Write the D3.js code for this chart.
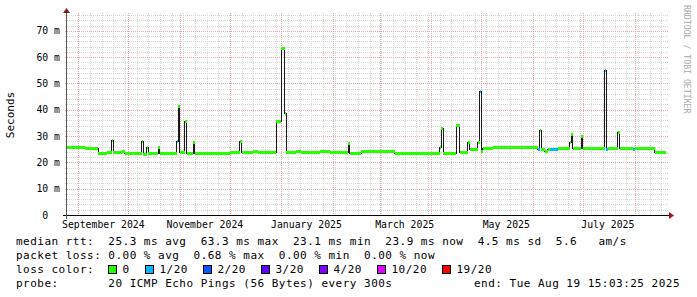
<!DOCTYPE html>
<html>
<head>
<meta charset="utf-8">
<script src="https://cdn.jsdelivr.net/npm/d3@7"></script>
<style>
body { margin: 0; background: #fff; }
svg { display: block; }
text { font-family: "DejaVu Sans Mono", monospace; white-space: pre; }
</style>
</head>
<body>
<svg id="chart" width="697" height="297"></svg>
<script>
// median rtt, one value per step (value holds until the next date)
var stepDates = [
  "2024-08-25","2024-09-05","2024-09-13","2024-09-18","2024-09-21","2024-09-22","2024-09-27","2024-09-29",
  "2024-10-09","2024-10-10","2024-10-12","2024-10-13","2024-10-19","2024-10-20","2024-10-30","2024-10-31",
  "2024-11-01","2024-11-04","2024-11-05","2024-11-09","2024-11-10","2024-12-01","2024-12-07","2024-12-08",
  "2024-12-15","2024-12-18","2024-12-29","2025-01-01","2025-01-03","2025-01-04","2025-01-10","2025-01-13",
  "2025-01-24","2025-01-30","2025-02-10","2025-02-11","2025-02-12","2025-02-18","2025-03-10","2025-04-06",
  "2025-04-07","2025-04-08","2025-04-16","2025-04-18","2025-04-23","2025-04-24","2025-04-29","2025-04-30",
  "2025-05-01","2025-05-02","2025-05-08","2025-06-04","2025-06-05","2025-06-06","2025-06-08","2025-06-10",
  "2025-06-11","2025-06-16","2025-06-23","2025-06-24","2025-06-25","2025-06-30","2025-07-01","2025-07-14",
  "2025-07-15","2025-07-16","2025-07-22","2025-07-23","2025-07-31","2025-08-01","2025-08-13"
];
var medianMs = [
  25.7, 25.4, 23.7, 24.1, 28.5, 23.8, 24.2, 23.7,
  28.3, 23.1, 26.0, 23.7, 26.0, 23.7, 28.3, 41.4,
  23.9, 35.7, 23.7, 27.6, 23.7, 24.1, 28.3, 23.8,
  24.2, 23.8, 35.7, 63.3, 38.8, 23.8, 24.2, 23.8,
  24.3, 23.8, 27.2, 23.5, 23.7, 24.3, 23.7, 26.0,
  33.0, 23.7, 34.2, 23.9, 27.6, 25.1, 27.6, 47.3,
  24.3, 25.6, 25.9, 25.1, 32.3, 25.0, 24.2, 25.1,
  25.1, 25.4, 27.6, 30.8, 25.4, 30.0, 25.4, 55.1,
  25.1, 25.4, 31.7, 25.4, 25.1, 25.4, 23.8
];
// index into lossLabels / lossColors
var lossLevel = [
  0,0,0,0,0,0,0,0,
  0,0,0,0,0,0,1,0,
  0,0,0,0,0,0,0,0,
  0,0,0,0,0,0,0,0,
  0,0,0,0,0,0,0,0,
  0,0,0,0,0,0,0,1,
  0,0,0,1,0,0,0,0,
  1,0,0,0,0,0,0,1,
  1,0,0,0,1,0,0
];
var dataEnd = "2025-08-19 15:03:25";

var yTicks = [0, 10, 20, 30, 40, 50, 60, 70];
var xLabelMonths = ["2024-09-01","2024-11-01","2025-01-01","2025-03-01","2025-05-01","2025-07-01"];

var lossLabels = ["0", "1/20", "2/20", "3/20", "4/20", "10/20", "19/20"];
var lossColors = ["#26ff00", "#00b8ff", "#0059ff", "#5e00ff", "#7e00ff", "#dd00ff", "#ff0000"];

var legendLines = [
  "median rtt:  25.3 ms avg  63.3 ms max  23.1 ms min  23.9 ms now  4.5 ms sd  5.6   am/s",
  "packet loss: 0.00 % avg  0.68 % max  0.00 % min  0.00 % now",
  "loss color:",
  "probe:       20 ICMP Echo Pings (56 Bytes) every 300s"
];
var endLabel = "end: Tue Aug 19 15:03:25 2025";

var parseDay = d3.timeParse("%Y-%m-%d");
var parseFull = d3.timeParse("%Y-%m-%d %H:%M:%S");

var pLeft = 67, pRight = 667, pTop = 15, pBottom = 215;
var svg = d3.select("#chart");

var x = d3.scaleTime()
  .domain([new Date(2024, 7, 25, 5, 0), new Date(2025, 7, 20, 12, 0)])
  .range([pLeft, pRight]);
var y = d3.scaleLinear().domain([0, 76]).range([pBottom, pTop]);

// grid
var grid = svg.append("g").attr("shape-rendering", "crispEdges").attr("stroke-dasharray", "1,1");
var weeks = d3.timeSunday.range(x.domain()[0], x.domain()[1]);
var months = d3.timeMonth.range(x.domain()[0], x.domain()[1]);
grid.selectAll(".vmin").data(weeks).enter().append("line")
  .attr("x1", function(d) { return Math.round(x(d)) + 0.5; })
  .attr("x2", function(d) { return Math.round(x(d)) + 0.5; })
  .attr("y1", pTop - 2).attr("y2", pBottom)
  .attr("stroke", "#d6d6d6");
var minorY = d3.range(2, 77, 2).filter(function(v) { return v % 10 !== 0; });
grid.selectAll(".hmin").data(minorY).enter().append("line")
  .attr("x1", pLeft - 2).attr("x2", pRight + 2)
  .attr("y1", function(d) { return Math.round(y(d)) + 0.5; })
  .attr("y2", function(d) { return Math.round(y(d)) + 0.5; })
  .attr("stroke", "#d6d6d6");
grid.selectAll(".vmaj").data(months).enter().append("line")
  .attr("x1", function(d) { return Math.round(x(d)) + 0.5; })
  .attr("x2", function(d) { return Math.round(x(d)) + 0.5; })
  .attr("y1", pTop - 2).attr("y2", pBottom)
  .attr("stroke", "#eba3a3");
grid.selectAll(".hmaj").data(yTicks.slice(1)).enter().append("line")
  .attr("x1", pLeft - 2).attr("x2", pRight + 2)
  .attr("y1", function(d) { return Math.round(y(d)) + 0.5; })
  .attr("y2", function(d) { return Math.round(y(d)) + 0.5; })
  .attr("stroke", "#eba3a3");

// median data
var pts = stepDates.map(function(d, i) { return { t: parseDay(d), v: medianMs[i], loss: lossLevel[i] }; });
var endT = parseFull(dataEnd);
var linePts = pts.concat([{ t: endT, v: medianMs[medianMs.length - 1] }]);

var plot = svg.append("g");
plot.append("path")
  .datum(linePts)
  .attr("fill", "none")
  .attr("stroke", "#1a1a1a")
  .attr("stroke-width", 1)
  .attr("shape-rendering", "crispEdges")
  .attr("d", d3.line()
    .x(function(d) { return Math.max(pLeft, x(d.t)); })
    .y(function(d) { return Math.round(y(d.v)) + 0.5; })
    .curve(d3.curveStepAfter));

plot.selectAll("rect.band").data(pts).enter().append("rect")
  .attr("class", "band")
  .attr("shape-rendering", "crispEdges")
  .attr("x", function(d) { return Math.max(pLeft, x(d.t)); })
  .attr("width", function(d, i) {
    var next = i + 1 < pts.length ? pts[i + 1].t : endT;
    return Math.max(1.5, x(next) - Math.max(pLeft, x(d.t)));
  })
  .attr("y", function(d) { return Math.round(y(d.v)) - 1; })
  .attr("height", 3)
  .attr("fill", function(d) { return lossColors[d.loss]; });

// axes
var axis = svg.append("g").attr("shape-rendering", "crispEdges");
axis.append("line").attr("x1", pLeft - 4).attr("x2", pRight + 3)
  .attr("y1", pBottom + 0.5).attr("y2", pBottom + 0.5).attr("stroke", "#000");
axis.append("line").attr("x1", pLeft - 0.5).attr("x2", pLeft - 0.5)
  .attr("y1", pBottom + 4).attr("y2", pTop - 3).attr("stroke", "#555");
svg.append("path")
  .attr("d", "M" + (pRight + 2) + "," + (pBottom - 3) + "L" + (pRight + 7) + "," + (pBottom + 0.5) + "L" + (pRight + 2) + "," + (pBottom + 4) + "Z")
  .attr("fill", "#a01818");
svg.append("path")
  .attr("d", "M" + (pLeft - 4) + "," + (pTop - 2) + "L" + (pLeft - 0.5) + "," + (pTop - 7) + "L" + (pLeft + 3) + "," + (pTop - 2) + "Z")
  .attr("fill", "#8b1c1c");

// y labels
svg.append("g").selectAll("text").data(yTicks).enter().append("text")
  .attr("x", 60)
  .attr("y", function(d) { return y(d); })
  .attr("dy", "0.36em")
  .attr("text-anchor", "end")
  .attr("font-size", "9.8px")
  .attr("fill", "#000")
  .text(function(d) { return d === 0 ? "0  " : d + " m"; });

// x labels, centred half a month after the month start
svg.append("g").selectAll("text").data(xLabelMonths).enter().append("text")
  .attr("x", function(d) { return x(d3.timeDay.offset(parseDay(d), 15)); })
  .attr("y", 227.5)
  .attr("text-anchor", "middle")
  .attr("font-size", "9.8px")
  .attr("fill", "#000")
  .text(function(d) { return d3.timeFormat("%B %Y")(parseDay(d)); });

// y title
svg.append("text")
  .attr("transform", "translate(14," + ((pTop + pBottom) / 2) + ") rotate(-90)")
  .attr("text-anchor", "middle")
  .attr("font-size", "11px")
  .attr("fill", "#000")
  .text("Seconds");

// watermark
svg.append("text")
  .attr("transform", "translate(684,5) rotate(90)")
  .attr("font-size", "8.2px")
  .attr("fill", "#aaaaaa")
  .text("RRDTOOL / TOBI OETIKER");

// legend
var legend = svg.append("g").attr("font-size", "11px").attr("letter-spacing", "0.48px").attr("fill", "#000");
legend.selectAll("text.line").data(legendLines).enter().append("text")
  .attr("class", "line")
  .attr("x", 16)
  .attr("y", function(d, i) { return 245 + i * 14; })
  .text(function(d) { return d; });
legend.append("text")
  .attr("x", 680).attr("y", 287)
  .attr("text-anchor", "end")
  .text(endLabel);

var bx = 108;
lossLabels.forEach(function(lbl, i) {
  legend.append("rect")
    .attr("x", bx + 0.5).attr("y", 265.5)
    .attr("width", 8).attr("height", 8)
    .attr("fill", lossColors[i])
    .attr("stroke", "#000")
    .attr("stroke-width", 1)
    .attr("shape-rendering", "crispEdges");
  legend.append("text")
    .attr("x", bx + 14.5).attr("y", 273)
    .text(lbl);
  bx = bx + 14.5 + lbl.length * 7.0 + 15.5;
});
</script>
</body>
</html>
